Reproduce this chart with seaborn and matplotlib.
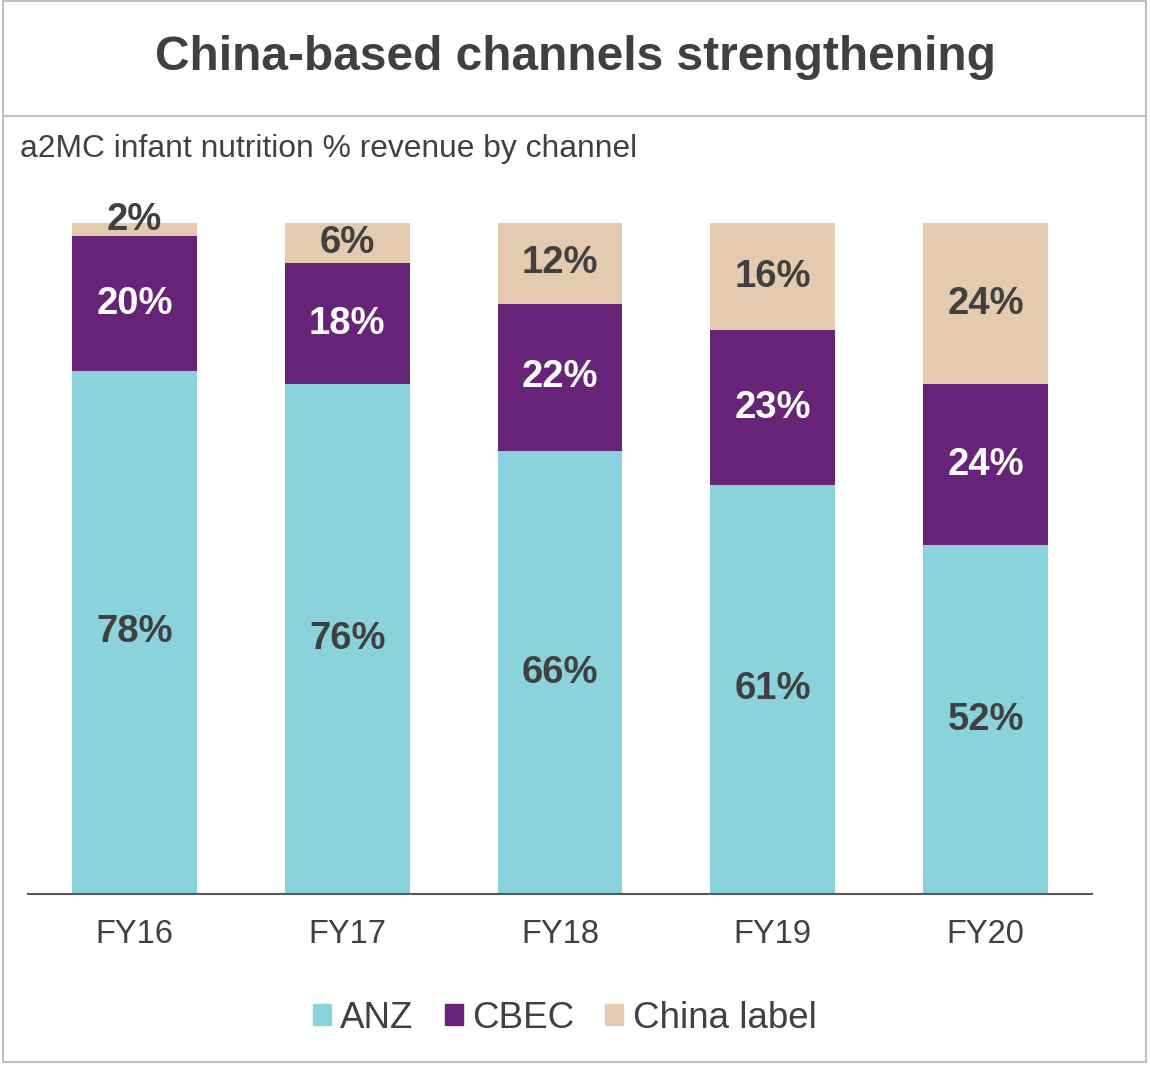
import pandas as pd
import seaborn as sns
import matplotlib.pyplot as plt
from matplotlib.patches import Patch, Rectangle
from matplotlib.lines import Line2D

years = ["FY16", "FY17", "FY18", "FY19", "FY20"]
anz = [78, 76, 66, 61, 52]
cbec = [20, 18, 22, 23, 24]
china_label = [2, 6, 12, 16, 24]

c_anz = "#8AD3DC"
c_cbec = "#662378"
c_china = "#E4CAAF"
dark = "#404040"

sns.set_theme(style="white")
plt.rcParams['font.family'] = ['Liberation Sans', 'DejaVu Sans']

df = pd.DataFrame({"year": years, "ANZ": anz, "CBEC": cbec, "China label": china_label})
df["cum_cbec"] = df["ANZ"] + df["CBEC"]
df["total"] = df["cum_cbec"] + df["China label"]

fig = plt.figure(figsize=(11.5, 10.65), dpi=100)
ax = fig.add_axes([28 / 1150, 1 - 894 / 1065, (1092 - 28) / 1150, (894 - 223) / 1065])

# stacked bars drawn as overlapping cumulative totals
for col, c in [("total", c_china), ("cum_cbec", c_cbec), ("ANZ", c_anz)]:
    sns.barplot(x="year", y=col, data=df, color=c, width=0.587, saturation=1,
                linewidth=0, ax=ax)

for i, row in df.iterrows():
    segs = [(0, row["ANZ"], dark), (row["ANZ"], row["CBEC"], "white"),
            (row["cum_cbec"], row["China label"], dark)]
    for bottom, val, col in segs:
        y = bottom + val / 2
        if val < 4:
            y += 1.5
        ax.text(i, y, f"{val}%", ha="center", va="center", fontsize=27.5,
                fontweight="bold", color=col)

ax.set_xlim(-0.5, 4.5)
ax.set_ylim(0, 100)
ax.set(xlabel="", ylabel="")
ax.set_yticks([])
ax.tick_params(axis="x", length=0, pad=18, labelsize=23.5, labelcolor=dark)
sns.despine(ax=ax, left=True, top=True, right=True)
ax.spines["bottom"].set_color("#595959")
ax.spines["bottom"].set_linewidth(1.5)

# title box and frame
fig.patches.append(Rectangle((3 / 1150, 3 / 1065), 1143 / 1150, 1061 / 1065,
                             transform=fig.transFigure, fill=False,
                             edgecolor="#BFBFBF", linewidth=1.5))
fig.lines.append(Line2D([3 / 1150, 1146 / 1150], [1 - 116 / 1065] * 2,
                        transform=fig.transFigure, color="#BFBFBF", linewidth=1.5))
fig.text(0.5, 1 - 57 / 1065, "China-based channels strengthening", ha="center",
         va="center", fontsize=34.5, fontweight="bold", color=dark)
fig.text(20 / 1150, 1 - 149 / 1065, "a2MC infant nutrition % revenue by channel",
         ha="left", va="center", fontsize=22.9, color=dark)

handles = [Patch(color=c_anz, label="ANZ"), Patch(color=c_cbec, label="CBEC"),
           Patch(color=c_china, label="China label")]
leg = fig.legend(handles=handles, loc="center", bbox_to_anchor=(0.491, 1 - 1018 / 1065),
                 ncol=3, frameon=False, fontsize=26.5, handlelength=0.49, handleheight=0.49,
                 handletextpad=0.25, columnspacing=0.85)
for t in leg.get_texts():
    t.set_color(dark)

plt.savefig("out.png", dpi=100)
